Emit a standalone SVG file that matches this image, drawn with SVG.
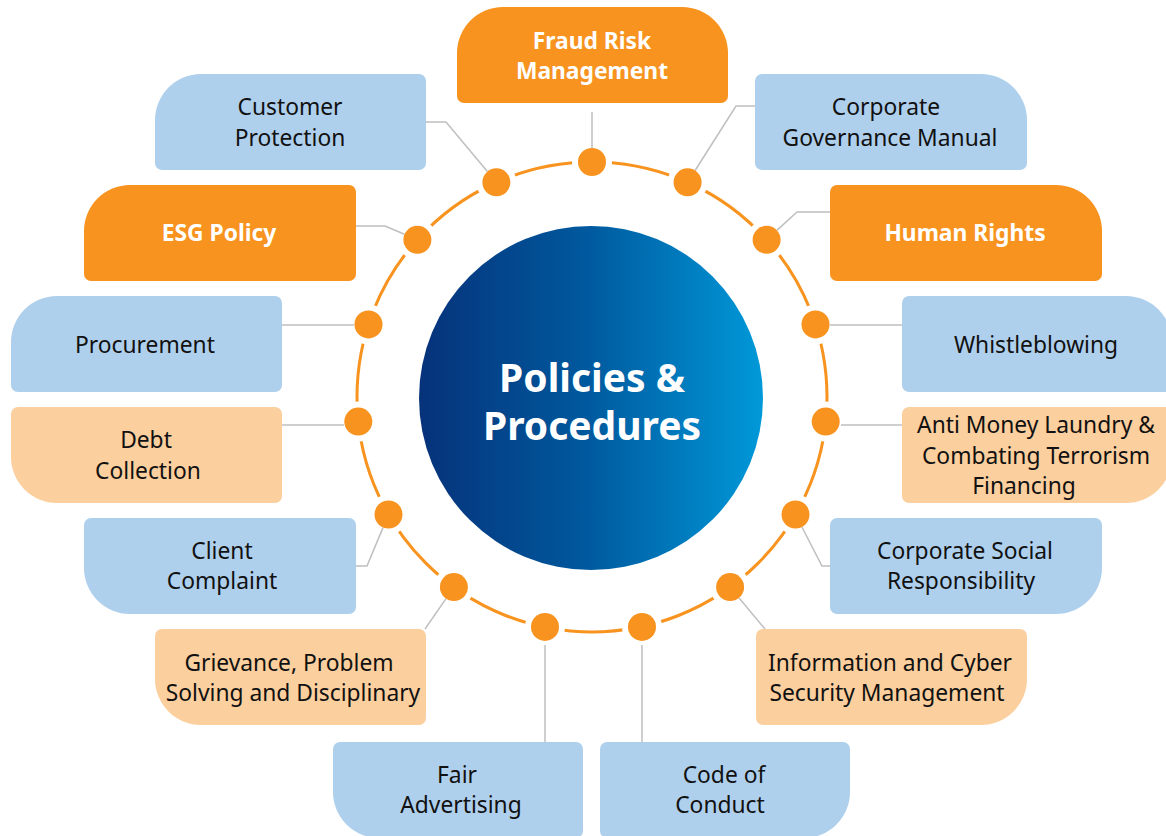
<svg xmlns="http://www.w3.org/2000/svg" width="1166" height="836" viewBox="0 0 1166 836">
  <defs>
    <linearGradient id="hubFill" x1="0" y1="0" x2="1" y2="0">
      <stop offset="0" stop-color="#06327a"/>
      <stop offset="0.5" stop-color="#005a9f"/>
      <stop offset="1" stop-color="#0099d9"/>
    </linearGradient>
    <style>
      .blue { fill: #afd0ed; }
      .peach { fill: #fccf9e; }
      .orange { fill: #f7931e; }
      .t { font-family: "Noto Sans", "Open Sans", "DejaVu Sans", sans-serif; font-size: 22.8px; fill: #111111; text-anchor: middle; }
      .w { font-weight: bold; fill: #ffffff; }
      .hub { font-family: "Noto Sans", "Open Sans", "DejaVu Sans", sans-serif; font-size: 39px; font-weight: bold; fill: #ffffff; text-anchor: middle; }
      .link { fill: none; stroke: #bfbfbf; stroke-width: 1.5; }
      .ring { fill: none; stroke: #f7931e; stroke-width: 3; }
      .halo { fill: #ffffff; }
      .dot { fill: #f7931e; }
    </style>
  </defs>

  <rect width="1166" height="836" fill="#ffffff"/>

  <!-- orange ring with white gaps around each stop -->
  <g id="ring">
    <circle class="ring" cx="592" cy="397" r="235"/>
    <g class="halo">
      <circle cx="592" cy="162" r="20"/>
      <circle cx="687.6" cy="182.3" r="20"/>
      <circle cx="766.6" cy="239.8" r="20"/>
      <circle cx="815.5" cy="324.4" r="20"/>
      <circle cx="825.7" cy="421.6" r="20"/>
      <circle cx="795.5" cy="514.5" r="20"/>
      <circle cx="730.1" cy="587.1" r="20"/>
      <circle cx="642" cy="626.9" r="20"/>
      <circle cx="545" cy="626.9" r="20"/>
      <circle cx="453.9" cy="587.1" r="20"/>
      <circle cx="388.5" cy="514.5" r="20"/>
      <circle cx="358.3" cy="421.6" r="20"/>
      <circle cx="368.5" cy="324.4" r="20"/>
      <circle cx="417.4" cy="239.8" r="20"/>
      <circle cx="496.4" cy="182.3" r="20"/>
    </g>
  </g>

  <!-- connectors from ring stops to boxes -->
  <g id="connectors" class="link">
    <path d="M592,112 V148"/>
    <path d="M755,106 H736 L695.1,170.5"/>
    <path d="M426,122 H446 L487.4,171.6"/>
    <path d="M830,212 H797 L776.9,230.4"/>
    <path d="M356,226 H385 L404.5,234.3"/>
    <path d="M282,325 H354"/>
    <path d="M902,325 H830"/>
    <path d="M282,425 H344"/>
    <path d="M902,425 H841"/>
    <path d="M830,566 H822 L801.9,527"/>
    <path d="M356,566 H367 L383.1,527.4"/>
    <path d="M765,629 L739.1,597.9"/>
    <path d="M425,629 L446,598.6"/>
    <path d="M545,742 V645"/>
    <path d="M642,742 V645"/>
  </g>

  <g id="stops" class="dot">
    <circle cx="592" cy="162" r="14"/>
    <circle cx="687.6" cy="182.3" r="14"/>
    <circle cx="766.6" cy="239.8" r="14"/>
    <circle cx="815.5" cy="324.4" r="14"/>
    <circle cx="825.7" cy="421.6" r="14"/>
    <circle cx="795.5" cy="514.5" r="14"/>
    <circle cx="730.1" cy="587.1" r="14"/>
    <circle cx="642" cy="626.9" r="14"/>
    <circle cx="545" cy="626.9" r="14"/>
    <circle cx="453.9" cy="587.1" r="14"/>
    <circle cx="388.5" cy="514.5" r="14"/>
    <circle cx="358.3" cy="421.6" r="14"/>
    <circle cx="368.5" cy="324.4" r="14"/>
    <circle cx="417.4" cy="239.8" r="14"/>
    <circle cx="496.4" cy="182.3" r="14"/>
  </g>

  <!-- central hub -->
  <g id="hub">
    <circle cx="591" cy="398" r="172" fill="url(#hubFill)"/>
    <text class="hub" x="592" y="392">Policies &amp;</text>
    <text class="hub" x="592" y="440">Procedures</text>
  </g>

  <g id="fraud-risk">
    <path class="orange" d="M503,7 H682 A46,46 0 0 1 728,53 V96 A7,7 0 0 1 721,103 H464 A7,7 0 0 1 457,96 V53 A46,46 0 0 1 503,7 Z"/>
    <text class="t w" x="592" y="49">Fraud Risk</text>
    <text class="t w" x="592" y="79">Management</text>
  </g>

  <g id="customer-protection">
    <path class="blue" d="M201,74 H419 A7,7 0 0 1 426,81 V163 A7,7 0 0 1 419,170 H162 A7,7 0 0 1 155,163 V120 A46,46 0 0 1 201,74 Z"/>
    <text class="t" x="290" y="115">Customer</text>
    <text class="t" x="290" y="146">Protection</text>
  </g>

  <g id="corporate-governance">
    <path class="blue" d="M762,74 H981 A46,46 0 0 1 1027,120 V163 A7,7 0 0 1 1020,170 H762 A7,7 0 0 1 755,163 V81 A7,7 0 0 1 762,74 Z"/>
    <text class="t" x="886" y="115">Corporate</text>
    <text class="t" x="890" y="146">Governance Manual</text>
  </g>

  <g id="esg-policy">
    <path class="orange" d="M130,185 H349 A7,7 0 0 1 356,192 V274 A7,7 0 0 1 349,281 H91 A7,7 0 0 1 84,274 V231 A46,46 0 0 1 130,185 Z"/>
    <text class="t w" x="219" y="241">ESG Policy</text>
  </g>

  <g id="human-rights">
    <path class="orange" d="M837,185 H1056 A46,46 0 0 1 1102,231 V274 A7,7 0 0 1 1095,281 H837 A7,7 0 0 1 830,274 V192 A7,7 0 0 1 837,185 Z"/>
    <text class="t w" x="965" y="241">Human Rights</text>
  </g>

  <g id="procurement">
    <path class="blue" d="M57,296 H275 A7,7 0 0 1 282,303 V385 A7,7 0 0 1 275,392 H18 A7,7 0 0 1 11,385 V342 A46,46 0 0 1 57,296 Z"/>
    <text class="t" x="145" y="353">Procurement</text>
  </g>

  <g id="whistleblowing">
    <path class="blue" d="M909,296 H1126 A46,46 0 0 1 1172,342 V385 A7,7 0 0 1 1165,392 H909 A7,7 0 0 1 902,385 V303 A7,7 0 0 1 909,296 Z"/>
    <text class="t" x="1036" y="353">Whistleblowing</text>
  </g>

  <g id="debt-collection">
    <path class="peach" d="M18,407 H275 A7,7 0 0 1 282,414 V496 A7,7 0 0 1 275,503 H57 A46,46 0 0 1 11,457 V414 A7,7 0 0 1 18,407 Z"/>
    <text class="t" x="146" y="448">Debt</text>
    <text class="t" x="148" y="479">Collection</text>
  </g>

  <g id="aml-ctf">
    <path class="peach" d="M909,407 H1165 A7,7 0 0 1 1172,414 V457 A46,46 0 0 1 1126,503 H909 A7,7 0 0 1 902,496 V414 A7,7 0 0 1 909,407 Z"/>
    <text class="t" x="1036" y="433">Anti Money Laundry &amp;</text>
    <text class="t" x="1036" y="464">Combating Terrorism</text>
    <text class="t" x="1024" y="494">Financing</text>
  </g>

  <g id="client-complaint">
    <path class="blue" d="M91,518 H349 A7,7 0 0 1 356,525 V607 A7,7 0 0 1 349,614 H130 A46,46 0 0 1 84,568 V525 A7,7 0 0 1 91,518 Z"/>
    <text class="t" x="222" y="559">Client</text>
    <text class="t" x="222" y="589">Complaint</text>
  </g>

  <g id="csr">
    <path class="blue" d="M837,518 H1095 A7,7 0 0 1 1102,525 V568 A46,46 0 0 1 1056,614 H837 A7,7 0 0 1 830,607 V525 A7,7 0 0 1 837,518 Z"/>
    <text class="t" x="965" y="559">Corporate Social</text>
    <text class="t" x="961" y="589">Responsibility</text>
  </g>

  <g id="grievance">
    <path class="peach" d="M162,629 H419 A7,7 0 0 1 426,636 V718 A7,7 0 0 1 419,725 H201 A46,46 0 0 1 155,679 V636 A7,7 0 0 1 162,629 Z"/>
    <text class="t" x="289" y="671">Grievance, Problem</text>
    <text class="t" x="293" y="701">Solving and Disciplinary</text>
  </g>

  <g id="info-cyber">
    <path class="peach" d="M763,629 H1020 A7,7 0 0 1 1027,636 V679 A46,46 0 0 1 981,725 H763 A7,7 0 0 1 756,718 V636 A7,7 0 0 1 763,629 Z"/>
    <text class="t" x="890" y="671">Information and Cyber</text>
    <text class="t" x="887" y="701">Security Management</text>
  </g>

  <g id="fair-advertising">
    <path class="blue" d="M340,742 H576 A7,7 0 0 1 583,749 V831 A7,7 0 0 1 576,838 H379 A46,46 0 0 1 333,792 V749 A7,7 0 0 1 340,742 Z"/>
    <text class="t" x="457" y="783">Fair</text>
    <text class="t" x="461" y="813">Advertising</text>
  </g>

  <g id="code-of-conduct">
    <path class="blue" d="M607,742 H843 A7,7 0 0 1 850,749 V792 A46,46 0 0 1 804,838 H607 A7,7 0 0 1 600,831 V749 A7,7 0 0 1 607,742 Z"/>
    <text class="t" x="724" y="783">Code of</text>
    <text class="t" x="720" y="813">Conduct</text>
  </g>
</svg>
